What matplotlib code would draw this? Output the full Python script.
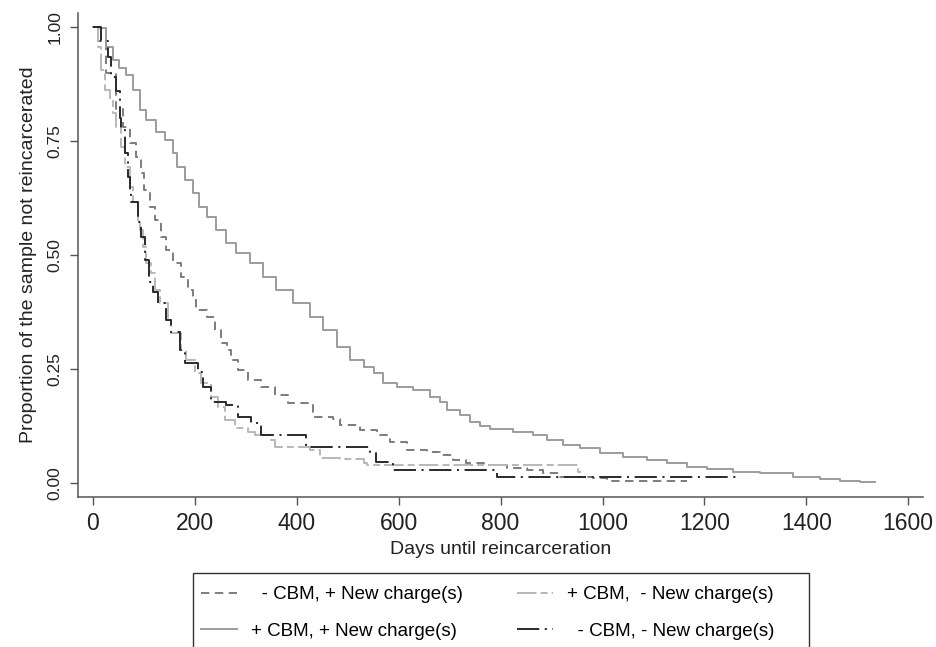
import matplotlib
matplotlib.use("Agg")
import matplotlib.pyplot as plt
from matplotlib.patches import Rectangle

# ---- data ----
days_ncbm_new = [0, 10, 25, 45, 59, 72, 85, 95, 101, 111, 121, 134, 144, 157, 173, 187, 196, 203,
                 223, 239, 252, 263, 271, 284, 304, 329, 357, 382, 431, 471, 485, 524, 557, 583,
                 616, 655, 681, 707, 733, 773, 812, 851, 884, 916, 982, 1009, 1166]
surv_ncbm_new = [1.0, 0.97, 0.90, 0.82, 0.781, 0.745, 0.716, 0.679, 0.643, 0.606, 0.577, 0.540,
                 0.511, 0.482, 0.452, 0.423, 0.402, 0.379, 0.365, 0.336, 0.307, 0.292, 0.270,
                 0.248, 0.226, 0.211, 0.193, 0.175, 0.145, 0.140, 0.127, 0.116, 0.105, 0.090,
                 0.072, 0.068, 0.061, 0.050, 0.044, 0.039, 0.033, 0.029, 0.022, 0.013, 0.011,
                 0.005, 0.005]

days_cbm_new = [0, 13, 26, 39, 52, 65, 79, 92, 105, 124, 141, 157, 164, 180, 196, 209, 223, 242,
                262, 281, 308, 334, 360, 393, 425, 452, 478, 504, 531, 551, 570, 597, 629, 662,
                681, 694, 720, 740, 760, 779, 825, 864, 891, 923, 956, 995, 1040, 1087, 1127,
                1166, 1205, 1257, 1309, 1374, 1427, 1466, 1506, 1535]
surv_cbm_new = [1.0, 0.997, 0.957, 0.928, 0.909, 0.895, 0.862, 0.818, 0.796, 0.770, 0.752, 0.723,
                0.694, 0.664, 0.635, 0.606, 0.584, 0.555, 0.526, 0.504, 0.482, 0.452, 0.423,
                0.394, 0.365, 0.336, 0.299, 0.270, 0.255, 0.241, 0.219, 0.211, 0.204, 0.189,
                0.178, 0.160, 0.149, 0.134, 0.125, 0.118, 0.112, 0.105, 0.094, 0.083, 0.077,
                0.066, 0.057, 0.050, 0.044, 0.035, 0.031, 0.024, 0.022, 0.013, 0.009, 0.004,
                0.002, 0.002]

days_cbm_nonew = [0, 10, 16, 24, 33, 39, 45, 55, 63, 73, 78, 88, 92, 98, 104, 114, 122, 131, 147,
                  153, 173, 182, 200, 212, 231, 245, 259, 278, 304, 318, 349, 357, 425, 445, 485,
                  531, 537, 952, 958]
surv_cbm_nonew = [1.0, 0.956, 0.906, 0.862, 0.84, 0.811, 0.781, 0.737, 0.693, 0.649, 0.616, 0.577,
                  0.555, 0.518, 0.482, 0.46, 0.423, 0.395, 0.357, 0.329, 0.292, 0.27, 0.241,
                  0.219, 0.189, 0.167, 0.138, 0.121, 0.112, 0.105, 0.094, 0.079, 0.072, 0.055,
                  0.053, 0.044, 0.039, 0.024, 0.024]

days_ncbm_nonew = [0, 16, 29, 35, 45, 53, 55, 63, 68, 73, 75, 88, 94, 102, 110, 118, 127, 143, 153,
                   171, 180, 206, 216, 231, 261, 284, 310, 329, 419, 544, 556, 589, 793, 1265]
surv_ncbm_nonew = [1.0, 0.97, 0.934, 0.89, 0.86, 0.80, 0.774, 0.724, 0.67, 0.636, 0.616, 0.572,
                   0.539, 0.489, 0.44, 0.419, 0.395, 0.357, 0.331, 0.292, 0.263, 0.243, 0.211,
                   0.178, 0.171, 0.145, 0.132, 0.105, 0.079, 0.068, 0.046, 0.029, 0.013, 0.013]

labels = ["  - CBM, + New charge(s)", "+ CBM, + New charge(s)",
          "+ CBM,  - New charge(s)", "  - CBM, - New charge(s)"]
xticks = [0, 200, 400, 600, 800, 1000, 1200, 1400, 1600]
yticks = [0.0, 0.25, 0.5, 0.75, 1.0]
ytick_labels = ["0.00", "0.25", "0.50", "0.75", "1.00"]

# ---- plot ----
plt.rcParams['font.family'] = ['Liberation Sans', 'DejaVu Sans']
plt.rcParams['lines.scale_dashes'] = False

W, H = 936, 647
fig = plt.figure(figsize=(W / 100, H / 100), dpi=100)
ax = fig.add_axes([78 / W, 1 - 497 / H, (923 - 78) / W, (497 - 13) / H])

l1, = ax.step(days_ncbm_new, surv_ncbm_new, where='post', color='#7c7c7c', lw=1.4,
              dashes=(6, 4))
l2, = ax.step(days_cbm_new, surv_cbm_new, where='post', color='#9c9c9c', lw=1.4)
l3, = ax.step(days_cbm_nonew, surv_cbm_nonew, where='post', color='#b8b8b8', lw=1.4,
              dashes=(14, 3, 5, 3))
l4, = ax.step(days_ncbm_nonew, surv_ncbm_nonew, where='post', color='#2a2a2a', lw=1.4,
              dashes=(16, 4, 1.5, 4))

ax.set_xlim(-29.4, 1629)
ax.set_ylim(-0.0307, 1.0307)
ax.set_xticks(xticks)
ax.set_xticklabels([str(t) for t in xticks], fontsize=16.5)
ax.set_yticks(yticks)
ax.set_yticklabels(ytick_labels, fontsize=12.5, rotation=90, va='center')
for s in ['top', 'right']:
    ax.spines[s].set_visible(False)
for s in ['left', 'bottom']:
    ax.spines[s].set_color('#555555')
    ax.spines[s].set_linewidth(1.1)
ax.tick_params(axis='both', direction='out', length=6, width=1, color='#555555', pad=5,
               labelcolor='#222222')
ax.set_xlabel("Days until reincarceration", fontsize=14, color='#222222', labelpad=4)
ax.set_ylabel("Proportion of the sample not reincarcerated", fontsize=14, color='#222222',
              labelpad=8)

fig.add_artist(Rectangle((193 / W, 1 - 690 / H), (809 - 193) / W, (690 - 573) / H,
                         transform=fig.transFigure, fill=False, edgecolor='#333333', lw=1.0,
                         clip_on=False))
leg = fig.legend([l1, l2, l3, l4], labels, ncol=2, loc='upper left',
                 bbox_to_anchor=(201 / W, 1 - 586 / H), frameon=False, fontsize=13.5,
                 handlelength=1.9, handletextpad=0.75, columnspacing=2.9, labelspacing=1.05,
                 borderaxespad=0, borderpad=0)

fig.savefig("out.png", dpi=100)
